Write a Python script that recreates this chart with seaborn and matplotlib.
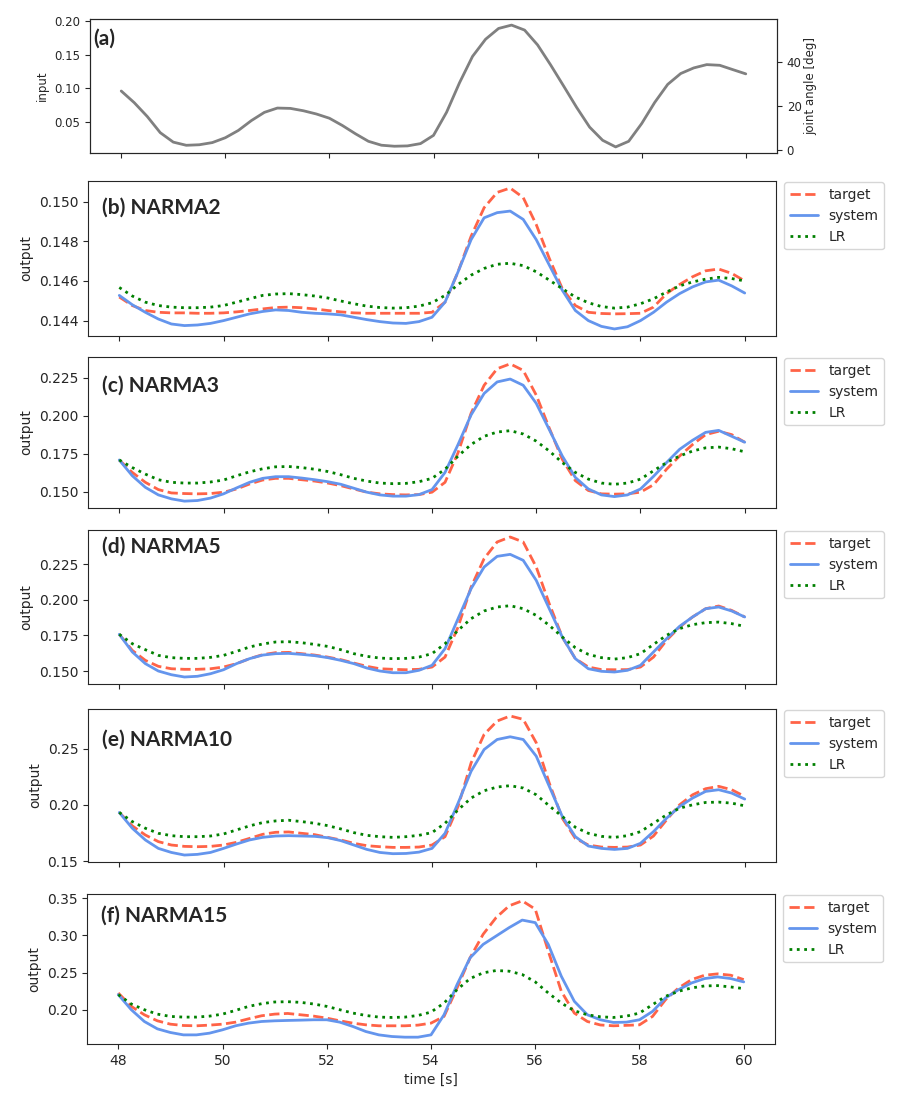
import numpy as np
import pandas as pd
import matplotlib
matplotlib.use("Agg")
import matplotlib.pyplot as plt
import seaborn as sns

# time grid (s), every 0.25 s
time = [48, 48.25, 48.5, 48.75, 49, 49.25, 49.5, 49.75, 50, 50.25, 50.5, 50.75, 51, 51.25, 51.5, 51.75,
        52, 52.25, 52.5, 52.75, 53, 53.25, 53.5, 53.75, 54, 54.25, 54.5, 54.75, 55, 55.25, 55.5, 55.75,
        56, 56.25, 56.5, 56.75, 57, 57.25, 57.5, 57.75, 58, 58.25, 58.5, 58.75, 59, 59.25, 59.5, 59.75, 60]

# (a) input
input_sig = [0.0963, 0.079, 0.0585, 0.0345, 0.0205, 0.0158, 0.0166, 0.0198, 0.027, 0.0378, 0.0524, 0.0646,
             0.071, 0.0705, 0.067, 0.0622, 0.0559, 0.0451, 0.0329, 0.0217, 0.0159, 0.0144, 0.0149, 0.0183,
             0.0305, 0.0646, 0.1085, 0.1476, 0.173, 0.189, 0.194, 0.1866, 0.1646, 0.135, 0.1037, 0.072,
             0.0427, 0.0232, 0.0134, 0.0217, 0.048, 0.0793, 0.1061, 0.1222, 0.1305, 0.1354, 0.1344, 0.128, 0.1217]

# (b) NARMA2
n2_target = [0.14519, 0.14476, 0.14451, 0.14442, 0.14439, 0.14439, 0.14437, 0.14437, 0.14439, 0.14444,
             0.14451, 0.14459, 0.14466, 0.14468, 0.14465, 0.14459, 0.14451, 0.14444, 0.14439, 0.14437,
             0.14437, 0.14437, 0.14437, 0.14437, 0.14442, 0.14493, 0.14646, 0.14825, 0.14969, 0.15046,
             0.15068, 0.1502, 0.14884, 0.14714, 0.14561, 0.14476, 0.14442, 0.14436, 0.14434, 0.14435,
             0.14437, 0.14468, 0.14536, 0.14582, 0.14621, 0.14651, 0.1466, 0.14638, 0.146]
n2_system = [0.14527, 0.1448, 0.14442, 0.14408, 0.14383, 0.14375, 0.14378, 0.14386, 0.144, 0.14417,
             0.14434, 0.14446, 0.14454, 0.14451, 0.14442, 0.14437, 0.14434, 0.14429, 0.14417, 0.14405,
             0.14395, 0.14388, 0.14386, 0.14395, 0.14417, 0.14493, 0.14646, 0.14808, 0.14918, 0.14944,
             0.14952, 0.1491, 0.14808, 0.1468, 0.14553, 0.14451, 0.144, 0.14371, 0.14358, 0.14369,
             0.144, 0.14442, 0.14493, 0.14536, 0.1457, 0.14595, 0.14604, 0.14575, 0.14539]
n2_lr = [0.14567, 0.14524, 0.14493, 0.14476, 0.14468, 0.14465, 0.14465, 0.14468, 0.14476, 0.14493,
         0.1451, 0.14527, 0.14534, 0.14536, 0.14531, 0.14524, 0.14514, 0.14499, 0.14485, 0.14473,
         0.14466, 0.14463, 0.14465, 0.14473, 0.1449, 0.14527, 0.14582, 0.14629, 0.14663, 0.14684,
         0.14689, 0.14677, 0.14646, 0.14604, 0.14561, 0.14519, 0.1449, 0.14471, 0.14463, 0.14468,
         0.14485, 0.1451, 0.14544, 0.14575, 0.14595, 0.14609, 0.14618, 0.14612, 0.146]

# (c) NARMA3
n3_target = [0.1708, 0.1626, 0.1561, 0.1513, 0.1491, 0.1487, 0.1485, 0.1487, 0.1496, 0.1517, 0.155, 0.1576,
             0.1587, 0.1587, 0.1578, 0.1569, 0.1556, 0.1539, 0.1517, 0.1496, 0.1485, 0.148, 0.1478, 0.148,
             0.1496, 0.1561, 0.1756, 0.2016, 0.22, 0.2309, 0.2341, 0.2298, 0.2135, 0.1918, 0.1712, 0.1572,
             0.1507, 0.1485, 0.1483, 0.1485, 0.1496, 0.1545, 0.1647, 0.1734, 0.181, 0.1875, 0.1897, 0.1875, 0.1825]
n3_system = [0.1708, 0.1604, 0.1528, 0.1478, 0.1452, 0.1437, 0.1441, 0.1457, 0.1485, 0.1524, 0.1561, 0.1587,
             0.1598, 0.1598, 0.1589, 0.1578, 0.1565, 0.1548, 0.1522, 0.1496, 0.1478, 0.147, 0.147, 0.148,
             0.1513, 0.1626, 0.181, 0.2005, 0.2146, 0.2222, 0.2241, 0.22, 0.2081, 0.1908, 0.1734, 0.1593,
             0.1517, 0.1478, 0.1467, 0.1478, 0.1517, 0.16, 0.1691, 0.1778, 0.1838, 0.189, 0.1903, 0.1864, 0.1825]
n3_lr = [0.1708, 0.1658, 0.1615, 0.1578, 0.1561, 0.1556, 0.1556, 0.1563, 0.1576, 0.1604, 0.163, 0.165,
         0.1663, 0.1665, 0.1658, 0.1647, 0.1632, 0.1611, 0.1587, 0.1569, 0.1556, 0.1552, 0.1554, 0.1565,
         0.1587, 0.1647, 0.1734, 0.181, 0.1864, 0.1892, 0.1901, 0.1879, 0.1832, 0.1767, 0.1691, 0.1626,
         0.1582, 0.1556, 0.1548, 0.1556, 0.1582, 0.1637, 0.1691, 0.1734, 0.1767, 0.1788, 0.1793, 0.1782, 0.1762]

# (d) NARMA5
n5_target = [0.1758, 0.1645, 0.1575, 0.1533, 0.1516, 0.1512, 0.1512, 0.1516, 0.1528, 0.1552, 0.1587, 0.1615,
             0.1629, 0.1631, 0.1622, 0.1612, 0.1598, 0.158, 0.1556, 0.1533, 0.1516, 0.1512, 0.1509, 0.1512,
             0.1528, 0.1598, 0.1809, 0.209, 0.229, 0.2407, 0.2442, 0.2407, 0.2231, 0.1973, 0.1739, 0.1587,
             0.1528, 0.151, 0.1509, 0.151, 0.1528, 0.1598, 0.1716, 0.1809, 0.188, 0.1938, 0.1957, 0.1926, 0.188]
n5_system = [0.1758, 0.1634, 0.1552, 0.15, 0.1474, 0.1458, 0.1463, 0.1481, 0.1509, 0.1552, 0.1587, 0.1612,
             0.1622, 0.1624, 0.1617, 0.1608, 0.1594, 0.1575, 0.1552, 0.1521, 0.15, 0.1488, 0.1488, 0.1505,
             0.154, 0.1657, 0.1868, 0.2079, 0.2231, 0.2306, 0.232, 0.2278, 0.2137, 0.1938, 0.1739, 0.1587,
             0.1516, 0.1498, 0.1493, 0.1505, 0.154, 0.1634, 0.1727, 0.1814, 0.188, 0.1938, 0.195, 0.1922, 0.188]
n5_lr = [0.1758, 0.1692, 0.165, 0.161, 0.1594, 0.1589, 0.1589, 0.1596, 0.161, 0.1638, 0.1669, 0.169,
         0.1704, 0.1706, 0.1699, 0.1687, 0.1673, 0.165, 0.1622, 0.1603, 0.1591, 0.1587, 0.1589, 0.1598,
         0.1622, 0.1692, 0.1786, 0.1868, 0.1922, 0.195, 0.1959, 0.1938, 0.1891, 0.1821, 0.1739, 0.1664,
         0.1617, 0.1594, 0.1584, 0.1594, 0.1622, 0.1687, 0.1751, 0.1798, 0.1826, 0.184, 0.1844, 0.1833, 0.1814]

# (e) NARMA10
n10_target = [0.1932, 0.1813, 0.1732, 0.1673, 0.1643, 0.1631, 0.1628, 0.1631, 0.1643, 0.1667, 0.1702, 0.1738,
              0.1756, 0.1759, 0.1747, 0.1735, 0.1711, 0.1688, 0.1658, 0.1637, 0.1628, 0.1622, 0.1622, 0.1625,
              0.1643, 0.1717, 0.1985, 0.2372, 0.2625, 0.2744, 0.2789, 0.2759, 0.2551, 0.2193, 0.1881, 0.1702,
              0.1643, 0.1625, 0.1622, 0.1625, 0.1643, 0.1723, 0.1866, 0.2, 0.2089, 0.2143, 0.2164, 0.2134, 0.2074]
n10_system = [0.1932, 0.1792, 0.1688, 0.1613, 0.1577, 0.1554, 0.156, 0.1577, 0.1613, 0.1652, 0.1688, 0.1711,
              0.1723, 0.1726, 0.1723, 0.172, 0.1708, 0.1682, 0.1643, 0.1604, 0.1577, 0.1566, 0.1568, 0.158,
              0.1613, 0.1747, 0.2015, 0.2298, 0.2491, 0.258, 0.2604, 0.258, 0.2432, 0.2164, 0.1896, 0.1717,
              0.1634, 0.1613, 0.1604, 0.1613, 0.1658, 0.1762, 0.1881, 0.1985, 0.206, 0.2119, 0.2134, 0.2104, 0.2051]
n10_lr = [0.1932, 0.1851, 0.1792, 0.1747, 0.1726, 0.1717, 0.1717, 0.1723, 0.1741, 0.1777, 0.1813, 0.1842,
          0.1857, 0.1863, 0.1851, 0.1836, 0.1815, 0.1786, 0.1753, 0.1729, 0.1717, 0.1711, 0.1717, 0.1729,
          0.1753, 0.1836, 0.1955, 0.206, 0.2125, 0.2158, 0.217, 0.2149, 0.2089, 0.1991, 0.1896, 0.1801,
          0.1747, 0.172, 0.1711, 0.1726, 0.1762, 0.1836, 0.1911, 0.197, 0.2, 0.2021, 0.2024, 0.2015, 0.1991]

# (f) NARMA15
n15_target = [0.2225, 0.2045, 0.1932, 0.1851, 0.1806, 0.1788, 0.1784, 0.1793, 0.1806, 0.1833, 0.1878, 0.1919,
              0.1941, 0.195, 0.1932, 0.1914, 0.1887, 0.1851, 0.182, 0.1797, 0.1784, 0.1784, 0.1784, 0.1793,
              0.182, 0.191, 0.2293, 0.2698, 0.3014, 0.3239, 0.3397, 0.3464, 0.3352, 0.2788, 0.2248, 0.1955,
              0.1842, 0.1795, 0.1784, 0.179, 0.1797, 0.191, 0.2135, 0.2293, 0.2405, 0.2464, 0.2482, 0.2464, 0.2405]
n15_system = [0.2203, 0.2, 0.1842, 0.1743, 0.1694, 0.1662, 0.1662, 0.1685, 0.173, 0.1784, 0.182, 0.1842,
              0.1851, 0.1856, 0.186, 0.1865, 0.1865, 0.1833, 0.1775, 0.1707, 0.1662, 0.164, 0.1631, 0.1631,
              0.1662, 0.1932, 0.2338, 0.2698, 0.2878, 0.2991, 0.3104, 0.3205, 0.3171, 0.2878, 0.245, 0.2113,
              0.1932, 0.1865, 0.1829, 0.1833, 0.1865, 0.1977, 0.2158, 0.227, 0.236, 0.2419, 0.2441, 0.2419, 0.2374]
n15_lr = [0.2203, 0.2077, 0.2, 0.1941, 0.191, 0.1901, 0.1901, 0.1914, 0.1941, 0.1991, 0.2045, 0.2081,
          0.2104, 0.2108, 0.2099, 0.2077, 0.2045, 0.2, 0.1955, 0.1923, 0.1901, 0.1896, 0.1901, 0.1923,
          0.1968, 0.209, 0.227, 0.2419, 0.2496, 0.2527, 0.2518, 0.2473, 0.2374, 0.2225, 0.209, 0.1986,
          0.1932, 0.1905, 0.1896, 0.1914, 0.1955, 0.2068, 0.218, 0.2248, 0.2293, 0.232, 0.2324, 0.2306, 0.2284]

panel_titles = ["(b) NARMA2", "(c) NARMA3", "(d) NARMA5", "(e) NARMA10", "(f) NARMA15"]
panel_data = [(n2_target, n2_system, n2_lr), (n3_target, n3_system, n3_lr), (n5_target, n5_system, n5_lr),
              (n10_target, n10_system, n10_lr), (n15_target, n15_system, n15_lr)]
panel_yticks = [[0.144, 0.146, 0.148, 0.150], [0.150, 0.175, 0.200, 0.225], [0.150, 0.175, 0.200, 0.225],
                [0.15, 0.20, 0.25], [0.20, 0.25, 0.30, 0.35]]
panel_fmt = ["%.3f", "%.3f", "%.3f", "%.2f", "%.2f"]
angle_ticks = [0, 20, 40]
time_ticks = [48, 50, 52, 54, 56, 58, 60]

sns.set_style("ticks")
plt.rcParams["font.family"] = ["DejaVu Sans"]
plt.rcParams["xtick.major.size"] = 3.5
plt.rcParams["ytick.major.size"] = 3.5

fig = plt.figure(figsize=(9, 10.94), dpi=100)
W, H = 900.0, 1094.0


def box(left, right, top, bottom):
    return [left / W, 1 - bottom / H, (right - left) / W, (bottom - top) / H]


# pixel boxes of the panels (left, right, top, bottom)
boxes = [(88, 776, 181, 336), (88, 776, 357, 508), (88, 776, 530, 684),
         (88, 776, 709, 862), (87, 775, 894, 1044)]
title_y = [0.83, 0.81, 0.89, 0.80, 0.853]

# input panel with the joint angle scale on the right
ax_a = fig.add_axes(box(90, 777, 19, 153))
sns.lineplot(x=time, y=input_sig, ax=ax_a, color="grey", linewidth=2)
ax_a.set_yticks([0.05, 0.10, 0.15, 0.20])
ax_a.yaxis.set_major_formatter(matplotlib.ticker.FormatStrFormatter("%.2f"))
ax_a.tick_params(labelsize=8.5)
ax_a.set_xticks(time_ticks)
ax_a.set_xticklabels([])
ax_a.set_ylabel("input", fontsize=8.5)
ax_a.text(0.005, 0.85, "(a)", transform=ax_a.transAxes, fontsize=15, fontweight="bold",
          family="Lato", va="center", ha="left")
ax_ang = ax_a.twinx()
lo, hi = ax_a.get_ylim()
ax_ang.set_ylim((lo - 0.0084) * 304, (hi - 0.0084) * 304)
ax_ang.set_yticks(angle_ticks)
ax_ang.tick_params(labelsize=8.5)
ax_ang.set_ylabel("joint angle [deg]", fontsize=8.5, labelpad=2)

axes = []
for i, (title, (tg, sy, lr)) in enumerate(zip(panel_titles, panel_data)):
    ax = fig.add_axes(box(*boxes[i]))
    sns.lineplot(x=time, y=tg, ax=ax, color="tomato", linestyle="--", linewidth=2, label="target")
    sns.lineplot(x=time, y=sy, ax=ax, color="cornflowerblue", linestyle="-", linewidth=2, label="system")
    sns.lineplot(x=time, y=lr, ax=ax, color="green", linestyle=":", linewidth=2, label="LR")
    ax.set_yticks(panel_yticks[i])
    ax.yaxis.set_major_formatter(matplotlib.ticker.FormatStrFormatter(panel_fmt[i]))
    ax.set_xticks(time_ticks)
    ax.tick_params(labelsize=10)
    ax.set_ylabel("output", fontsize=10)
    if i < 4:
        ax.set_xticklabels([])
    ax.text(0.02, title_y[i], title, transform=ax.transAxes, fontsize=15, fontweight="bold",
            family="Lato", va="center", ha="left")
    ax.legend(loc="upper left", bbox_to_anchor=(1.01, 1.0), borderaxespad=0.1, fontsize=10)
    axes.append(ax)

axes[-1].set_xlabel("time [s]", fontsize=10)

fig.savefig("out.png", dpi=100)
